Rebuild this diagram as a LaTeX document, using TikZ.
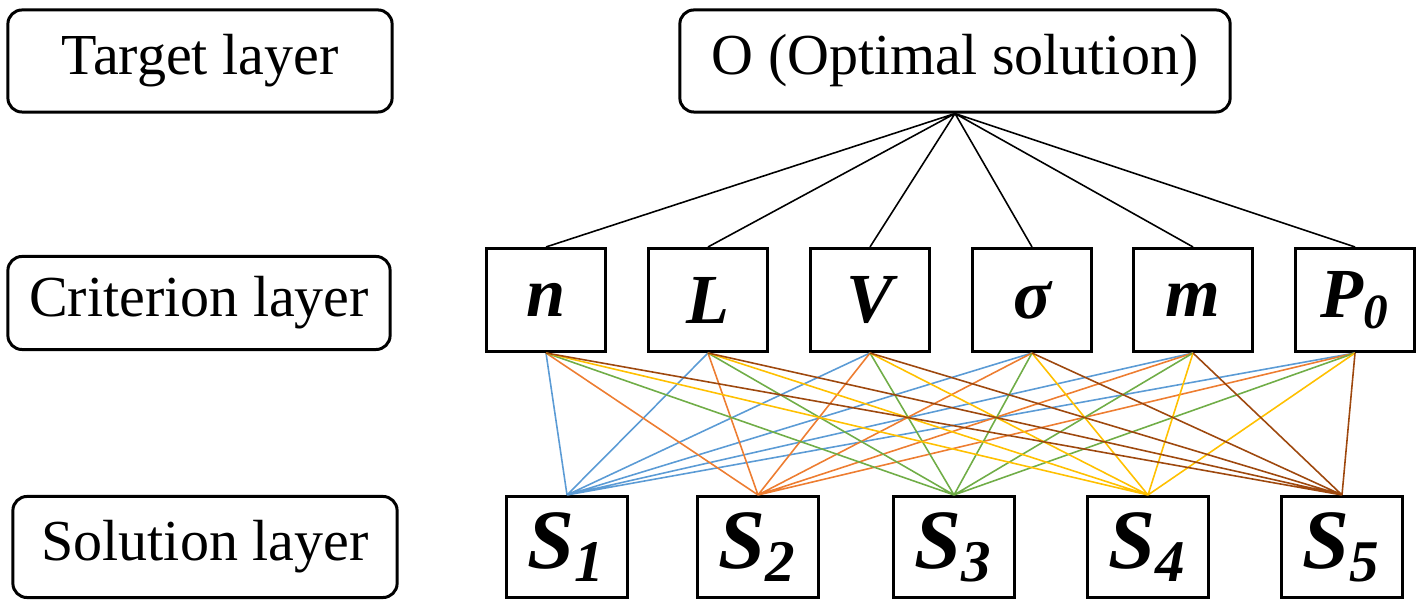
\documentclass[tikz,border=0pt]{standalone}
\usepackage{fontspec}
\setmainfont{Liberation Serif}
\usepackage{tikz}
\definecolor{lineblue}{HTML}{5B9BD5}
\definecolor{lineorange}{HTML}{ED7D31}
\definecolor{linegreen}{HTML}{70AD47}
\definecolor{lineyellow}{HTML}{FFC000}
\definecolor{linebrown}{HTML}{9E480E}
\tikzset{
    layerbox/.style={draw, line width=0.85pt, rounded corners=4pt, inner sep=0pt,
        font=\fontsize{16.5}{19}\selectfont},
    critbox/.style={draw, line width=0.85pt, inner sep=0pt, minimum width=1.19cm,
        minimum height=1.03cm, font=\fontsize{20}{24}\selectfont\bfseries\itshape},
    solbox/.style={draw, line width=0.85pt, inner sep=0pt, minimum width=1.2cm,
        minimum height=1.01cm, font=\fontsize{24}{28}\selectfont\bfseries\itshape},
    link/.style={line width=0.45pt}}

\begin{document}
\begin{tikzpicture}[x=0.01cm, y=-0.01cm]
                \useasboundingbox (0,0) rectangle (1427,601);

                    % layer names
                    \node[layerbox, minimum width=3.84cm, minimum height=1.02cm] (target) at (200,61) {Target layer};
                    \node[layerbox, minimum width=3.82cm, minimum height=0.93cm] (criterion) at (199,303) {Criterion layer};
                    \node[layerbox, minimum width=3.84cm, minimum height=1.01cm] (solution) at (205,547) {Solution layer};

                    \node[layerbox, minimum width=5.50cm, minimum height=1.02cm] (O) at (955,61) {O (Optimal solution)};

                    % criteria
                    \node[critbox] (n) at (546,300) {n};
                    \node[critbox] (L) at (708,300) {L};
                    \node[critbox] (V) at (870,300) {V};
                    \node[critbox] (sigma) at (1032,300) {σ};
                    \node[critbox] (m) at (1193,300) {m};
                    \node[critbox] (P) at (1355,300) {P\textsubscript{0}};

                    % solutions
                    \node[solbox] (S1) at (567,547) {S\textsubscript{1}};
                    \node[solbox] (S2) at (758,547) {S\textsubscript{2}};
                    \node[solbox] (S3) at (954,547) {S\textsubscript{3}};
                    \node[solbox] (S4) at (1148,547) {S\textsubscript{4}};
                    \node[solbox] (S5) at (1342,547) {S\textsubscript{5}};

                    \draw[link] (O.south) -- (n.north) (O.south) -- (L.north) (O.south) -- (V.north)
                        (O.south) -- (sigma.north) (O.south) -- (m.north) (O.south) -- (P.north);

                    \draw[link, lineblue] (S1.north) -- (n.south) (S1.north) -- (L.south) (S1.north) -- (V.south)
                        (S1.north) -- (sigma.south) (S1.north) -- (m.south) (S1.north) -- (P.south);
                    \draw[link, lineorange] (S2.north) -- (n.south) (S2.north) -- (L.south) (S2.north) -- (V.south)
                        (S2.north) -- (sigma.south) (S2.north) -- (m.south) (S2.north) -- (P.south);
                    \draw[link, linegreen] (S3.north) -- (n.south) (S3.north) -- (L.south) (S3.north) -- (V.south)
                        (S3.north) -- (sigma.south) (S3.north) -- (m.south) (S3.north) -- (P.south);
                    \draw[link, lineyellow] (S4.north) -- (n.south) (S4.north) -- (L.south) (S4.north) -- (V.south)
                        (S4.north) -- (sigma.south) (S4.north) -- (m.south) (S4.north) -- (P.south);
                    \draw[link, linebrown] (S5.north) -- (n.south) (S5.north) -- (L.south) (S5.north) -- (V.south)
                        (S5.north) -- (sigma.south) (S5.north) -- (m.south) (S5.north) -- (P.south);

                \end{tikzpicture}
\end{document}
